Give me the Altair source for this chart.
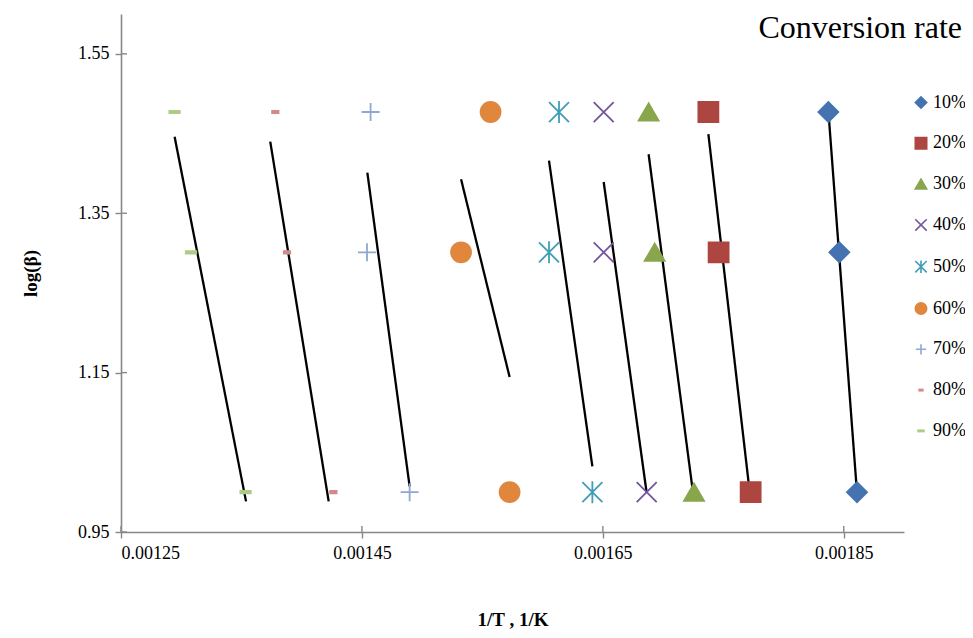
import altair as alt
import pandas as pd

rates = ["10%", "20%", "30%", "40%", "50%", "60%", "70%", "80%", "90%"]
log_beta = [1.477, 1.301, 1.0]  # log(30), log(20), log(10)

# 1/T values per rate at each heating rate
inv_t_beta30 = [0.0018372, 0.0017376, 0.0016880, 0.0016507, 0.0016136, 0.0015568, 0.0014572, 0.0013781, 0.0012945]
inv_t_beta20 = [0.0018463, 0.0017461, 0.0016930, 0.0016507, 0.0016053, 0.0015323, 0.0014542, 0.0013878, 0.0013081]
inv_t_beta10 = [0.0018610, 0.0017727, 0.0017257, 0.0016864, 0.0016413, 0.0015726, 0.0014896, 0.0014263, 0.0013534]

# fitted (black) lines per rate
line_x_start = [0.0018372, 0.0017376, 0.0016880, 0.0016507, 0.0016053, 0.0015323, 0.0014545, 0.0013739, 0.0012945]
line_y_start = [1.4787, 1.4494, 1.4240, 1.3892, 1.4160, 1.3926, 1.4009, 1.4398, 1.4460]
line_x_end = [0.0018610, 0.0017727, 0.0017257, 0.0016864, 0.0016413, 0.0015726, 0.0014896, 0.0014224, 0.0013538]
line_y_end = [0.9989, 0.9896, 0.9896, 0.9989, 1.0323, 1.1444, 1.0072, 0.9884, 0.9884]

x_ticks = [0.00125, 0.00145, 0.00165, 0.00185]
y_ticks = [0.95, 1.15, 1.35, 1.55]

colors = ["#4573B0", "#AD4541", "#89A64D", "#74569B", "#3F9EB6", "#E0873D", "#8EA7D3", "#D3898A", "#AECB88"]
shapes = [
    "diamond",
    "square",
    "triangle-up",
    "M-1,-1L1,1M-1,1L1,-1",
    "M-1,-1L1,1M-1,1L1,-1M0,-1.1L0,1.1",
    "circle",
    "M-0.9,0L0.9,0M0,-0.9L0,0.9",
    "M-0.32,-0.12L0.32,-0.12L0.32,0.12L-0.32,0.12Z",
    "M-0.52,-0.12L0.52,-0.12L0.52,0.12L-0.52,0.12Z",
]

rows = []
for lb, vals in zip(log_beta, [inv_t_beta30, inv_t_beta20, inv_t_beta10]):
    for r, v in zip(rates, vals):
        rows.append({"rate": r, "invT": v, "logb": lb})
pts = pd.DataFrame(rows)

lines = pd.DataFrame({
    "rate": rates,
    "x1": line_x_start, "y1": line_y_start,
    "x2": line_x_end, "y2": line_y_end,
})

W, H = 783, 518
FONT = "Liberation Serif"
AX = "#878787"

xscale = alt.Scale(domain=[0.00125, 0.0019], nice=False, zero=False)
yscale = alt.Scale(domain=[0.95, 1.6], nice=False, zero=False)

legend = alt.Legend(
    title=None, orient="none", legendX=791, legendY=79.5, padding=0,
    symbolSize=130, symbolStrokeWidth=1.6, labelOffset=3, rowPadding=22.8,
    labelFont=FONT, labelFontSize=18, labelColor="#000000",
)

xaxis = alt.Axis(
    values=x_ticks, format=".5f", title="1/T , 1/K", grid=False,
    domainColor=AX, domainWidth=1.6, tickColor=AX, tickWidth=1.4, tickSize=6,
    labelPadding=6, labelFont=FONT, labelFontSize=18, labelColor="#000000",
    titleFont=FONT, titleFontSize=19, titleFontWeight="bold", titleColor="#000000",
    titleX=W / 2, titleY=87, titleBaseline="middle", titleAnchor="middle",
)
yaxis = alt.Axis(
    values=y_ticks, format=".2f", title="log(β)", grid=False,
    domainColor=AX, domainWidth=1.6, tickColor=AX, tickWidth=1.4, tickSize=6,
    labelPadding=6, labelFont=FONT, labelFontSize=18, labelColor="#000000",
    titleFont=FONT, titleFontSize=19, titleFontWeight="bold", titleColor="#000000",
    titleX=-91, titleY=H / 2, titleBaseline="middle", titleAlign="center", titleAngle=-90,
)

points = alt.Chart(pts).mark_point(filled=True, size=400, strokeWidth=1.8, opacity=1).encode(
    x=alt.X("invT:Q", scale=xscale, axis=xaxis),
    y=alt.Y("logb:Q", scale=yscale, axis=yaxis),
    fill=alt.Fill("rate:N", scale=alt.Scale(domain=rates, range=colors), legend=legend),
    stroke=alt.Stroke("rate:N", scale=alt.Scale(domain=rates, range=colors), legend=legend),
    shape=alt.Shape("rate:N", scale=alt.Scale(domain=rates, range=shapes), legend=legend),
)

fits = alt.Chart(lines).mark_rule(color="#000000", strokeWidth=2.3).encode(
    x=alt.X("x1:Q", scale=xscale),
    y=alt.Y("y1:Q", scale=yscale),
    x2="x2:Q",
    y2="y2:Q",
)

# inner halves of the crossing tick marks
xt = alt.Chart(pd.DataFrame({"v": x_ticks})).mark_rule(color=AX, strokeWidth=1.4).encode(
    x=alt.X("v:Q", scale=xscale), y=alt.value(H - 6), y2=alt.value(H)
)
yt = alt.Chart(pd.DataFrame({"v": y_ticks})).mark_rule(color=AX, strokeWidth=1.4).encode(
    y=alt.Y("v:Q", scale=yscale), x=alt.value(0), x2=alt.value(6)
)

title_txt = alt.Chart(pd.DataFrame({"t": ["Conversion rate"]})).mark_text(
    font=FONT, fontSize=32, align="right", baseline="middle", color="#000000"
).encode(text="t:N", x=alt.value(841), y=alt.value(14))

chart = alt.layer(fits, points, xt, yt, title_txt).properties(
    width=W, height=H,
    autosize=alt.AutoSizeParams(type="none"),
    padding={"left": 113, "top": 6, "right": 61, "bottom": 98},
    background="#ffffff",
).configure_view(stroke=None)

chart.save("out.html", embed_options={"renderer": "svg", "actions": False})
